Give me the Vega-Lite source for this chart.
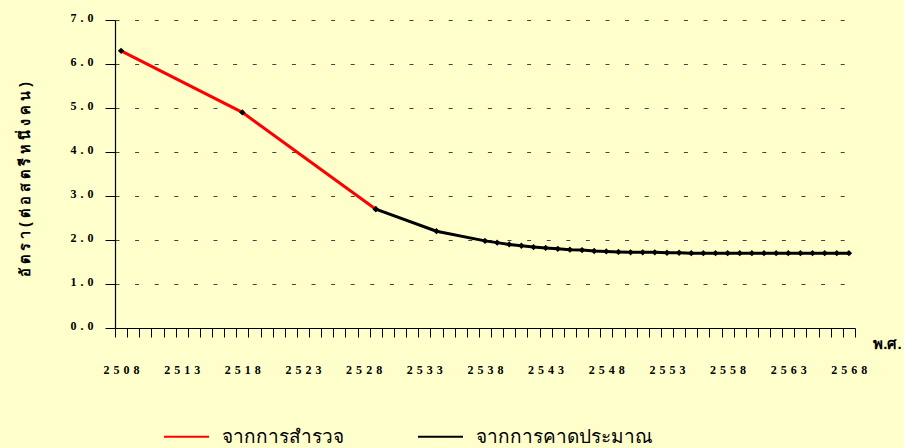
{
  "$schema": "https://vega.github.io/schema/vega-lite/v6.json",
  "width": 740,
  "height": 308,
  "autosize": {"type": "none"},
  "padding": {"left": 115, "top": 20, "right": 49, "bottom": 120},
  "background": "#FFFFCC",
  "config": {"view": {"stroke": null}},
  "data": {
    "values": [
      {"year": 2508, "rate": 6.3, "series": "จากการสำรวจ"},
      {"year": 2518, "rate": 4.9, "series": "จากการสำรวจ"},
      {"year": 2529, "rate": 2.7, "series": "จากการสำรวจ"},
      {"year": 2529, "rate": 2.7, "series": "จากการคาดประมาณ"},
      {"year": 2534, "rate": 2.2, "series": "จากการคาดประมาณ"},
      {"year": 2538, "rate": 1.98, "series": "จากการคาดประมาณ"},
      {"year": 2539, "rate": 1.94, "series": "จากการคาดประมาณ"},
      {"year": 2540, "rate": 1.9, "series": "จากการคาดประมาณ"},
      {"year": 2541, "rate": 1.87, "series": "จากการคาดประมาณ"},
      {"year": 2542, "rate": 1.84, "series": "จากการคาดประมาณ"},
      {"year": 2543, "rate": 1.82, "series": "จากการคาดประมาณ"},
      {"year": 2544, "rate": 1.8, "series": "จากการคาดประมาณ"},
      {"year": 2545, "rate": 1.78, "series": "จากการคาดประมาณ"},
      {"year": 2546, "rate": 1.77, "series": "จากการคาดประมาณ"},
      {"year": 2547, "rate": 1.75, "series": "จากการคาดประมาณ"},
      {"year": 2548, "rate": 1.74, "series": "จากการคาดประมาณ"},
      {"year": 2549, "rate": 1.73, "series": "จากการคาดประมาณ"},
      {"year": 2550, "rate": 1.72, "series": "จากการคาดประมาณ"},
      {"year": 2551, "rate": 1.72, "series": "จากการคาดประมาณ"},
      {"year": 2552, "rate": 1.72, "series": "จากการคาดประมาณ"},
      {"year": 2553, "rate": 1.71, "series": "จากการคาดประมาณ"},
      {"year": 2554, "rate": 1.71, "series": "จากการคาดประมาณ"},
      {"year": 2555, "rate": 1.7, "series": "จากการคาดประมาณ"},
      {"year": 2556, "rate": 1.7, "series": "จากการคาดประมาณ"},
      {"year": 2557, "rate": 1.7, "series": "จากการคาดประมาณ"},
      {"year": 2558, "rate": 1.7, "series": "จากการคาดประมาณ"},
      {"year": 2559, "rate": 1.7, "series": "จากการคาดประมาณ"},
      {"year": 2560, "rate": 1.7, "series": "จากการคาดประมาณ"},
      {"year": 2561, "rate": 1.7, "series": "จากการคาดประมาณ"},
      {"year": 2562, "rate": 1.7, "series": "จากการคาดประมาณ"},
      {"year": 2563, "rate": 1.7, "series": "จากการคาดประมาณ"},
      {"year": 2564, "rate": 1.7, "series": "จากการคาดประมาณ"},
      {"year": 2565, "rate": 1.7, "series": "จากการคาดประมาณ"},
      {"year": 2566, "rate": 1.7, "series": "จากการคาดประมาณ"},
      {"year": 2567, "rate": 1.7, "series": "จากการคาดประมาณ"},
      {"year": 2568, "rate": 1.7, "series": "จากการคาดประมาณ"}
    ]
  },
  "encoding": {
    "x": {
      "field": "year",
      "type": "quantitative",
      "scale": {"domain": [2507.5, 2568.5], "nice": false, "zero": false},
      "axis": {
        "values": [2507.5, 2508.5, 2509.5, 2510.5, 2511.5, 2512.5, 2513.5, 2514.5, 2515.5, 2516.5, 2517.5, 2518.5, 2519.5, 2520.5, 2521.5, 2522.5, 2523.5, 2524.5, 2525.5, 2526.5, 2527.5, 2528.5, 2529.5, 2530.5, 2531.5, 2532.5, 2533.5, 2534.5, 2535.5, 2536.5, 2537.5, 2538.5, 2539.5, 2540.5, 2541.5, 2542.5, 2543.5, 2544.5, 2545.5, 2546.5, 2547.5, 2548.5, 2549.5, 2550.5, 2551.5, 2552.5, 2553.5, 2554.5, 2555.5, 2556.5, 2557.5, 2558.5, 2559.5, 2560.5, 2561.5, 2562.5, 2563.5, 2564.5, 2565.5, 2566.5, 2567.5, 2568.5],
        "labelExpr": "(datum.value - 2507.5) % 5 == 0 ? join(split(toString(datum.value + 0.5), ''), '\u2004') : ''",
        "labelOffset": 6,
        "labelOverlap": false,
        "labelFlush": false,
        "labelFont": "Liberation Serif",
        "labelFontWeight": "bold",
        "labelFontSize": 12,
        "labelColor": "#000000",
        "labelPadding": 27,
        "labelBaseline": "top",
        "tickSize": 9,
        "tickColor": "#000000",
        "tickWidth": 1,
        "domainColor": "#000000",
        "domainWidth": 1.2,
        "grid": false,
        "title": "พ.ศ.",
        "titleX": 772,
        "titleY": 15,
        "titleAlign": "center",
        "titleBaseline": "middle",
        "titleFontSize": 15,
        "titleFontWeight": "bold",
        "titleColor": "#000000"
      }
    },
    "y": {
      "field": "rate",
      "type": "quantitative",
      "scale": {"domain": [0, 7], "nice": false},
      "axis": {
        "values": [0, 1, 2, 3, 4, 5, 6, 7],
        "labelExpr": "join(split(format(datum.value, '.1f'), ''), '\u2004')",
        "labelFont": "Liberation Serif",
        "labelFontWeight": "bold",
        "labelFontSize": 12,
        "labelColor": "#000000",
        "labelOffset": -3,
        "labelPadding": 12,
        "tickSize": 10,
        "tickColor": "#000000",
        "domainColor": "#000000",
        "domainWidth": 1.2,
        "grid": true,
        "gridColor": "#444444",
        "gridWidth": 1,
        "gridDash": [4, 15.6],
        "title": "อั ต ร า   ( ต่ อ ส ต รี ห นึ่ ง ค น )",
        "titleX": -90,
        "titleY": 159,
        "titleAngle": -90,
        "titleAlign": "center",
        "titleBaseline": "middle",
        "titleFontSize": 14.5,
        "titleFontWeight": "bold",
        "titleColor": "#000000"
      }
    }
  },
  "layer": [
    {
      "mark": {"type": "line", "strokeWidth": 3},
      "encoding": {
        "color": {
          "field": "series",
          "type": "nominal",
          "sort": ["จากการสำรวจ", "จากการคาดประมาณ"],
          "scale": {"domain": ["จากการสำรวจ", "จากการคาดประมาณ"], "range": ["#FF0000", "#000000"]},
          "legend": {
            "title": null,
            "orient": "none",
            "direction": "horizontal",
            "legendX": 48,
            "legendY": 393,
            "symbolType": "stroke",
            "symbolSize": 2025,
            "symbolStrokeWidth": 2,
            "labelFontSize": 19,
            "labelLimit": 400,
            "labelColor": "#000000",
            "labelOffset": 12,
            "columnPadding": 70
          }
        }
      }
    },
    {
      "mark": {"type": "point", "shape": "diamond", "filled": true, "color": "#000000", "size": 40, "opacity": 1}
    }
  ]
}
